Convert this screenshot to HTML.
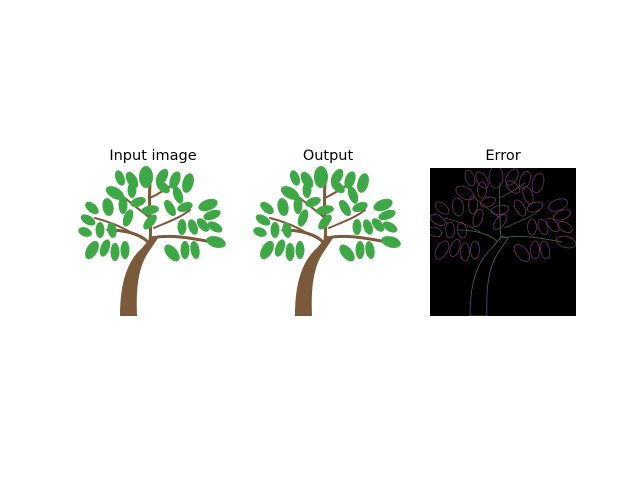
<!DOCTYPE html>
<html><head><style>
html,body{margin:0;padding:0;background:#fff;width:640px;height:480px;overflow:hidden}
svg{position:absolute;left:0;top:0}
text{font-family:"DejaVu Sans","Liberation Sans",sans-serif;font-size:14.5px;fill:#000}
</style></head><body>
<svg width="640" height="480" viewBox="0 0 640 480">
<defs>
<clipPath id="cp"><rect x="0" y="0" width="146" height="148"/></clipPath>
<g id="tree">
  <path d="M40,148 C40,120 45,95 62,80 L72,68 L78,70 L70,82 C58,98 56,120 57,148 Z" style="fill:var(--tf);stroke:var(--ts);stroke-width:0.8"/>
  <g style="fill:none;stroke:var(--bs);stroke-linecap:round">
  <path d="M68,74 C60,66 45,62 28,62" style="stroke-width:var(--w3)"/>
  <path d="M70,72 C72,60 68,45 70,15" style="stroke-width:var(--w3)"/>
  <path d="M72,70 C90,66 110,70 132,74" style="stroke-width:var(--w3)"/>
  <path d="M70,50 C60,42 52,36 45,30" style="stroke-width:var(--w2)"/>
  <path d="M74,60 C85,55 100,50 110,42" style="stroke-width:var(--w2)"/>
  <path d="M70,30 C80,25 88,20 95,15" style="stroke-width:var(--w2)"/>
  <path d="M50,64 C40,58 30,54 15,50" style="stroke-width:var(--w2)"/>
  </g>
  <g style="fill:var(--lf);stroke:var(--ls);stroke-width:0.8">
  <ellipse cx="66" cy="9" rx="7" ry="11"/>
  <ellipse cx="52" cy="12" rx="5" ry="9" transform="rotate(-30 52 12)"/>
  <ellipse cx="82" cy="9" rx="5" ry="9" transform="rotate(30 82 9)"/>
  <ellipse cx="40" cy="10" rx="4.5" ry="8" transform="rotate(-20 40 10)"/>
  <ellipse cx="95" cy="12" rx="5" ry="9" transform="rotate(20 95 12)"/>
  <ellipse cx="108" cy="15" rx="5.5" ry="10" transform="rotate(15 108 15)"/>
  <ellipse cx="35" cy="25" rx="5.5" ry="10" transform="rotate(-60 35 25)"/>
  <ellipse cx="52" cy="22" rx="4.5" ry="8"/>
  <ellipse cx="83" cy="19" rx="4.5" ry="8" transform="rotate(-50 83 19)"/>
  <ellipse cx="98" cy="27" rx="4.5" ry="9" transform="rotate(-20 98 27)"/>
  <ellipse cx="28" cy="39" rx="5.5" ry="9" transform="rotate(-10 28 39)"/>
  <ellipse cx="43" cy="37" rx="4.5" ry="9"/>
  <ellipse cx="58" cy="34" rx="4.5" ry="8" transform="rotate(70 58 34)"/>
  <ellipse cx="70" cy="42" rx="4.5" ry="9" transform="rotate(80 70 42)"/>
  <ellipse cx="90" cy="40" rx="4.5" ry="9" transform="rotate(-30 90 40)"/>
  <ellipse cx="105" cy="39" rx="4.5" ry="8" transform="rotate(70 105 39)"/>
  <ellipse cx="128" cy="37" rx="5.5" ry="10" transform="rotate(70 128 37)"/>
  <ellipse cx="132" cy="47" rx="4.5" ry="9" transform="rotate(70 132 47)"/>
  <ellipse cx="12" cy="40" rx="4.5" ry="8" transform="rotate(-50 12 40)"/>
  <ellipse cx="8" cy="52" rx="4.5" ry="8" transform="rotate(-60 8 52)"/>
  <ellipse cx="20" cy="62" rx="4.5" ry="8"/>
  <ellipse cx="32" cy="62" rx="4.5" ry="8" transform="rotate(-10 32 62)"/>
  <ellipse cx="48" cy="50" rx="4.5" ry="9" transform="rotate(20 48 50)"/>
  <ellipse cx="70" cy="54" rx="4.5" ry="9" transform="rotate(40 70 54)"/>
  <ellipse cx="102" cy="59" rx="4.5" ry="8"/>
  <ellipse cx="113" cy="59" rx="4.5" ry="8" transform="rotate(-20 113 59)"/>
  <ellipse cx="123" cy="57" rx="4.5" ry="8" transform="rotate(-40 123 57)"/>
  <ellipse cx="135" cy="59" rx="4.5" ry="8" transform="rotate(-60 135 59)"/>
  <ellipse cx="5" cy="64" rx="4.5" ry="7" transform="rotate(-70 5 64)"/>
  <ellipse cx="12" cy="82" rx="5.5" ry="10" transform="rotate(30 12 82)"/>
  <ellipse cx="25" cy="80" rx="4.5" ry="9" transform="rotate(20 25 80)"/>
  <ellipse cx="35" cy="84" rx="4.5" ry="9"/>
  <ellipse cx="45" cy="82" rx="4.5" ry="9"/>
  <ellipse cx="92" cy="85" rx="5.5" ry="10" transform="rotate(-40 92 85)"/>
  <ellipse cx="105" cy="82" rx="4.5" ry="9"/>
  <ellipse cx="115" cy="82" rx="4.5" ry="9" transform="rotate(-10 115 82)"/>
  <ellipse cx="136" cy="74" rx="5.5" ry="10" transform="rotate(-75 136 74)"/>
  </g>
</g>
</defs>
<text x="153" y="160" text-anchor="middle">Input image</text>
<text x="328" y="160" text-anchor="middle">Output</text>
<text x="503" y="160" text-anchor="middle">Error</text>
<g transform="translate(80,168)" style="--tf:#7a5a3a;--ts:none;--bs:#7a5a3a;--lf:#3fa846;--ls:none;--w3:3px;--w2:2px"><use href="#tree"/></g>
<g transform="translate(255,168)" style="--tf:#7a5a3a;--ts:none;--bs:#7a5a3a;--lf:#3fa846;--ls:none;--w3:3px;--w2:2px"><use href="#tree"/></g>
<rect x="430" y="168" width="146" height="148" fill="#000"/>
<g transform="translate(430,168)" clip-path="url(#cp)" style="--tf:none;--ts:#6a4a70;--bs:#3a5a36;--lf:none;--ls:#6a3064;--w3:1px;--w2:0.8px"><use href="#tree"/></g>
</svg>
</body></html>
